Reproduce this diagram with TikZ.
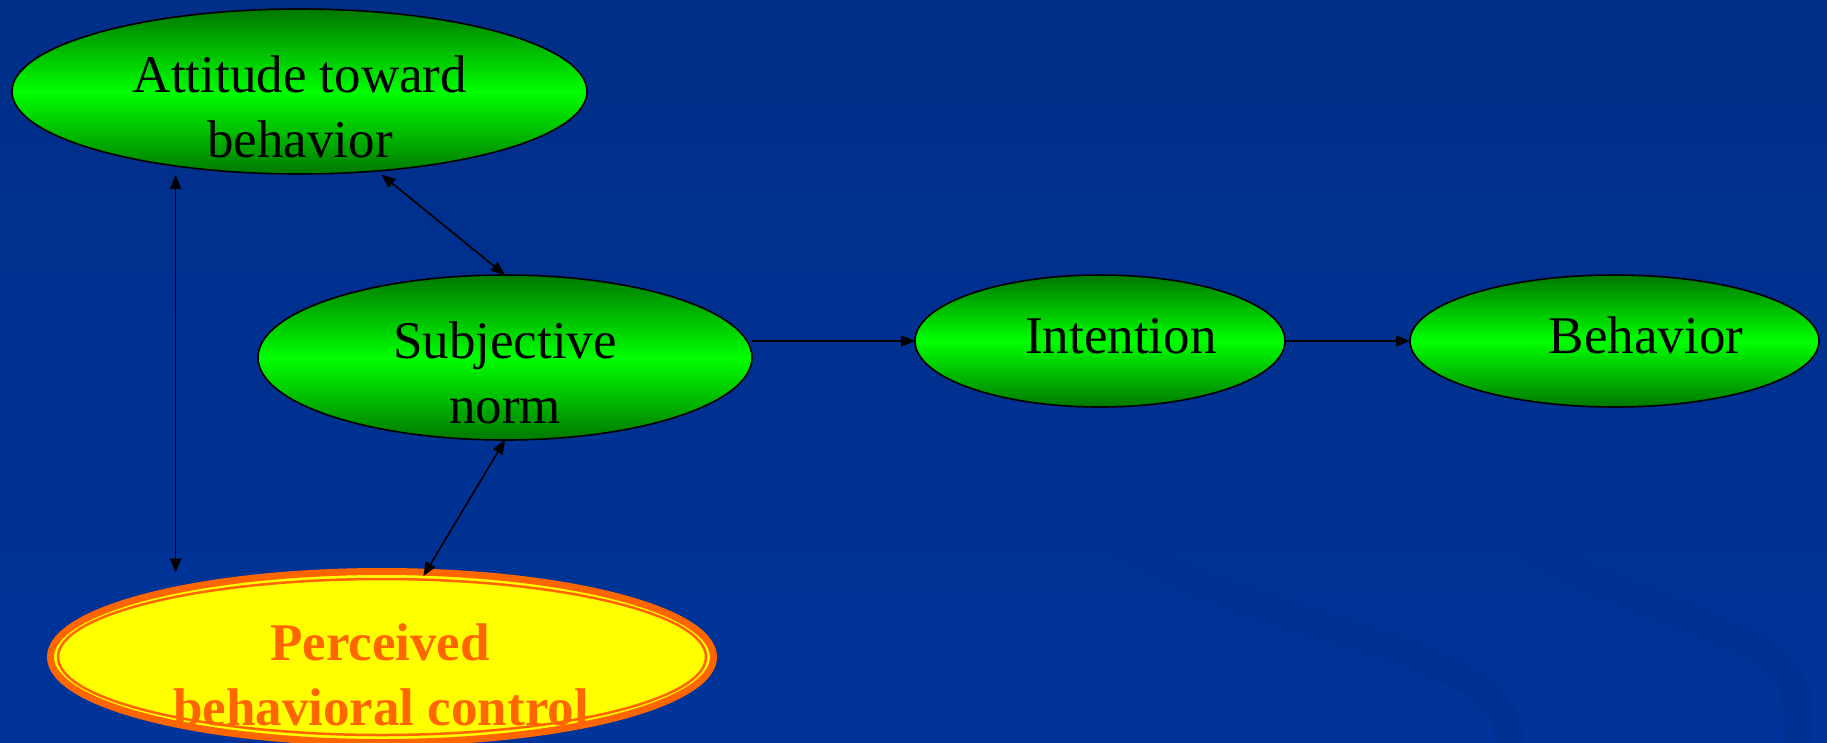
\documentclass[tikz,border=0pt]{standalone}
\usepackage{fontspec}
\setmainfont{Liberation Serif}
\usetikzlibrary{shapes.geometric,arrows.meta,calc}
\definecolor{bgtop}{RGB}{0,46,136}
\definecolor{bgbot}{RGB}{0,52,154}
\definecolor{swirl}{RGB}{0,48,146}
\definecolor{gdark}{RGB}{0,120,0}
\definecolor{glight}{RGB}{0,255,0}
\definecolor{porange}{RGB}{255,102,0}
\definecolor{pyellow}{RGB}{255,255,0}
\tikzset{
  greenell/.style={ellipse, draw=black, line width=1.6pt, inner sep=0pt, outer sep=0pt,
    top color=gdark, bottom color=gdark, middle color=glight},
  label/.style={font=\fontsize{53}{65}\selectfont, text=black, inner sep=0pt, anchor=base},
  plabel/.style={font=\fontsize{53}{65}\selectfont\bfseries, text=porange, inner sep=0pt, anchor=base},
  conn/.style={line width=1.6pt, draw=black, arrows={-Triangle[length=14pt,width=11pt]}},
  dconn/.style={line width=1.6pt, draw=black, arrows={Triangle[length=14pt,width=11pt]-Triangle[length=14pt,width=11pt]}},
  swirlband/.style={draw=swirl, line width=28pt, line cap=round}
}
\begin{document}
\begin{tikzpicture}[x=1pt,y=-1pt]
\useasboundingbox (0,0) rectangle (1827,742);
\shade[top color=bgtop, bottom color=bgbot] (0,0) rectangle (1827,742);
% faint background swirls
\draw[swirlband] (1440,382) .. controls (1250,405) and (1075,430) .. (1090,500) .. controls (1105,565) and (1260,605) .. (1400,650) .. controls (1500,685) and (1520,720) .. (1505,770);
\draw[swirlband] (1850,400) .. controls (1650,420) and (1480,455) .. (1500,510) .. controls (1520,570) and (1680,605) .. (1760,650) .. controls (1805,680) and (1805,720) .. (1790,770);
% ellipses
\node[greenell, minimum width=575pt, minimum height=165pt] (att) at (299.5,91.5) {};
\node[greenell, minimum width=494pt, minimum height=165pt] (sub) at (505,357.5) {};
\node[greenell, minimum width=370pt, minimum height=132pt] (int) at (1100,341) {};
\node[greenell, minimum width=409pt, minimum height=132pt] (beh) at (1614.5,341) {};
\node[ellipse, draw=porange, fill=pyellow, line width=7pt, inner sep=0pt, outer sep=0pt,
      minimum width=663pt, minimum height=171pt] (per) at (382,657) {};
\draw[draw=porange, line width=2.5pt] (per.center) ellipse [x radius=324pt, y radius=78pt];
% connectors
\draw[dconn] ([yshift=-9pt]att.211.1) -- ($(att.211.1 |- per.north)+(0,1)$);
\draw[dconn] ([yshift=-4pt]att.316.2) -- (sub.north);
\draw[dconn] (sub.south) -- ([yshift=-4pt]per.64.6);
\draw[conn] (sub.east |- int.west) -- (int.west);
\draw[conn] (int.east) -- (beh.west);
% texts
\node[label] (attA) at (300,92) {Attitude toward};
\node[label] (attB) at (300,157) {behavior};
\node[label] (subA) at (505,358) {Subjective};
\node[label] (subB) at (505,423) {norm};
\node[label] (intT) at (1121,353) {Intention};
\node[label] (behT) at (1646,353) {Behavior};
\node[plabel] (perA) at (380,660) {Perceived};
\node[plabel] (perB) at (381,725) {behavioral control};
\end{tikzpicture}
\end{document}
